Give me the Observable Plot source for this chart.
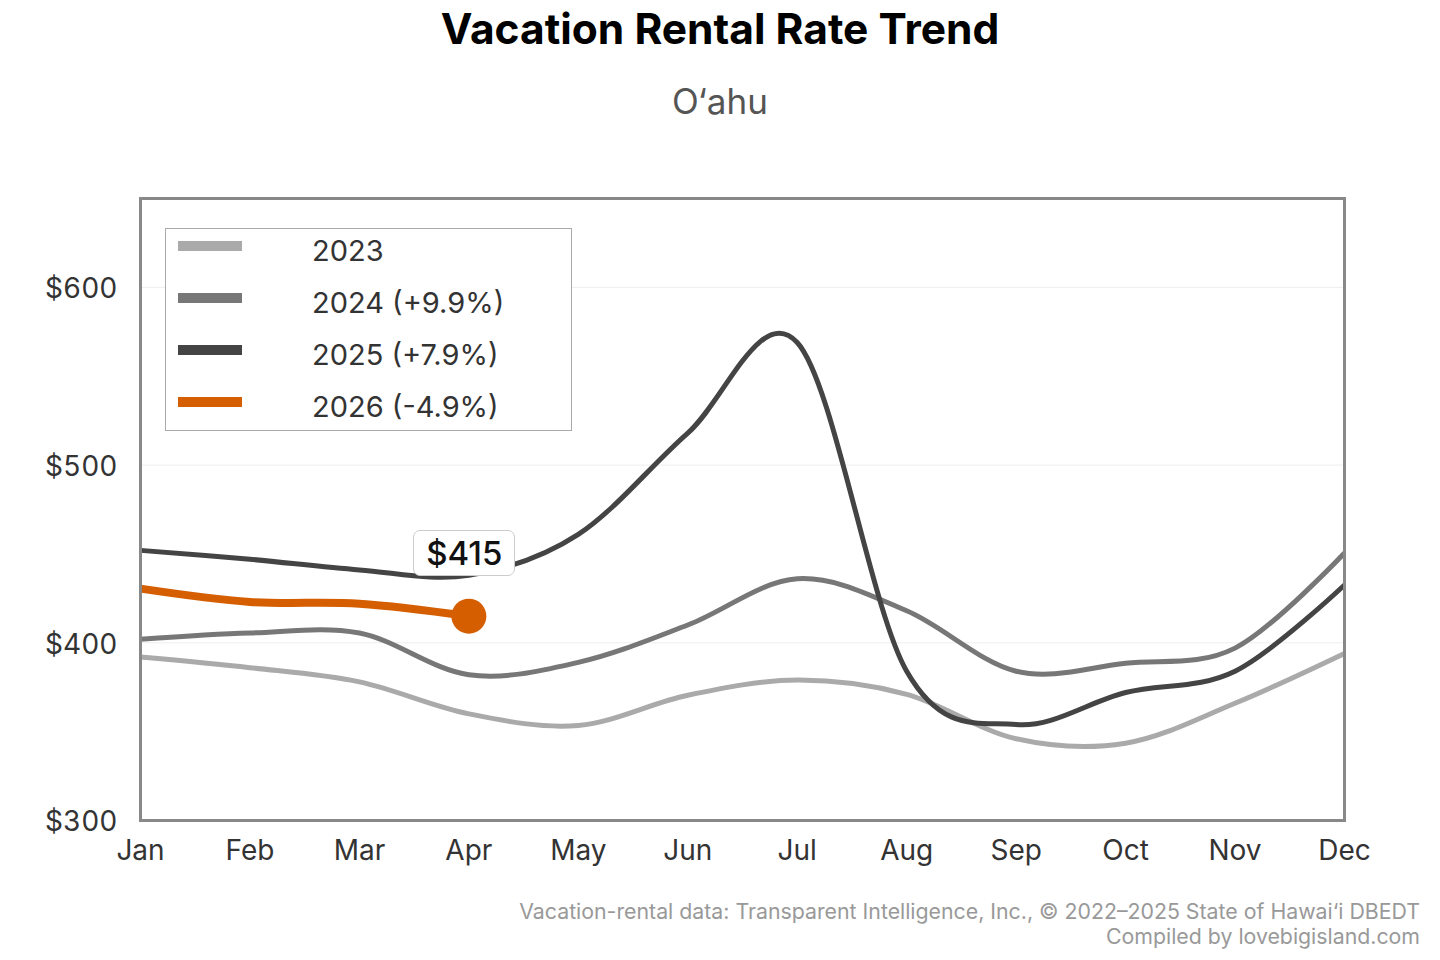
<!DOCTYPE html>
<html>
<head>
<meta charset="utf-8">
<script src="https://cdn.jsdelivr.net/npm/d3@7"></script>
<script src="https://cdn.jsdelivr.net/npm/@observablehq/plot@0.6"></script>
<style>
  body { margin: 0; background: #fff; font-family: Inter, "Noto Sans", sans-serif; }
  #wrap { position: relative; width: 1440px; height: 960px; overflow: hidden; background: #fff; }
  #title { position: absolute; left: 0; width: 1440px; top: 3px; line-height: 52px; text-align: center;
           font-size: 42.5px; font-weight: 700; color: #000; }
  #subtitle { position: absolute; left: 0; width: 1440px; top: 79px; line-height: 44px; text-align: center;
              font-size: 35px; font-weight: 400; color: #555; }
  #chart { position: absolute; left: 0; top: 160px; }
  #legend { position: absolute; box-sizing: border-box; border: 1.5px solid #aaa; background: #fff; }
  .row { position: absolute; left: 0; height: 52px; width: 100%; }
  .sw { position: absolute; left: 12px; width: 64px; height: 10px; }
  .lab { position: absolute; left: 146px; font-size: 29px; color: #333; line-height: 36px; white-space: nowrap; }
  #note { position: absolute; box-sizing: border-box; border: 1px solid #ccc; border-radius: 7px; background: #fff;
          font-size: 33px; font-weight: 500; color: #111; text-align: center; line-height: 44px; }
  #caption { position: absolute; right: 20px; top: 899px; text-align: right; font-size: 21.3px; line-height: 25px; color: #999; }
</style>
</head>
<body>
<div id="wrap">
  <div id="title"></div>
  <div id="subtitle"></div>
  <div id="chart"></div>
  <div id="caption"></div>
</div>
<script>
// ---- data ----
const titleText = "Vacation Rental Rate Trend";
const subtitleText = "O‘ahu";
const captionLines = [
  "Vacation-rental data: Transparent Intelligence, Inc., © 2022–2025 State of Hawai‘i DBEDT",
  "Compiled by lovebigisland.com"
];
const months = ["Jan", "Feb", "Mar", "Apr", "May", "Jun", "Jul", "Aug", "Sep", "Oct", "Nov", "Dec"];
const rates2023 = [392, 386, 378, 360, 353.5, 370.5, 379, 371, 346, 343.5, 366, 394];
const rates2024 = [402, 405.5, 405.5, 382, 389, 410, 436, 418, 384, 388.5, 397, 450.5];
const rates2025 = [452, 447, 441, 438, 461, 518, 569, 384, 354, 372, 384, 432.5];
const rates2026 = [430.5, 423, 422, 415];
const seriesNames = ["2023", "2024 (+9.9%)", "2025 (+7.9%)", "2026 (-4.9%)"];
const seriesColors = ["#aaaaaa", "#777777", "#444444", "#D55E00"];
const seriesWidths = [5, 5, 5, 8];
const yTicks = [300, 400, 500, 600];
const gridValues = [400, 500, 600];
const latestLabel = "$415";

// ---- build table ----
const allSeries = [rates2023, rates2024, rates2025, rates2026];
const rows = [];
allSeries.forEach((vals, s) => vals.forEach((v, i) => rows.push({series: seriesNames[s], month: i, rate: v})));
const lastIdx = rates2026.length - 1;
const latest = [{month: lastIdx, rate: rates2026[lastIdx]}];

document.getElementById("title").textContent = titleText;
document.getElementById("subtitle").textContent = subtitleText;
document.getElementById("caption").innerHTML = captionLines.map(t => `<div>${t}</div>`).join("");

const plot = Plot.plot({
  width: 1440,
  height: 720,
  marginTop: 38,
  marginBottom: 60,
  marginLeft: 140,
  marginRight: 96,
  style: {fontFamily: "Inter, 'Noto Sans', sans-serif", background: "transparent", color: "#333"},
  x: {domain: [0, 11]},
  y: {domain: [300, 650]},
  color: {domain: seriesNames, range: seriesColors},
  marks: [
    Plot.ruleY(gridValues, {stroke: "#eeeeee", strokeWidth: 1}),
    Plot.axisY({ticks: yTicks, tickFormat: d => "$" + d, tickSize: 0, tickPadding: 23, fontSize: 28, label: null, dy: 2}),
    Plot.axisX({ticks: d3.range(12), tickFormat: i => months[i], tickSize: 0, tickPadding: 20, fontSize: 28, label: null}),
    ...seriesNames.map((name, s) =>
      Plot.line(rows.filter(d => d.series === name), {
        x: "month", y: "rate", stroke: seriesColors[s], strokeWidth: seriesWidths[s],
        curve: "cardinal", strokeLinecap: "butt", strokeLinejoin: "round"
      })
    ),
    Plot.dot(latest, {x: "month", y: "rate", r: 17.5, fill: seriesColors[3], stroke: "none"}),
    Plot.frame({stroke: "#888888", strokeWidth: 3})
  ]
});
document.getElementById("chart").appendChild(plot);

// overlays positioned via the plot's scales
const xs = plot.scale("x"), ys = plot.scale("y");
const top0 = 160;
const wrap = document.getElementById("wrap");

// legend
const legend = document.createElement("div");
legend.id = "legend";
const lx = xs.apply(0) + 25, ly = top0 + ys.apply(650) + 30;
Object.assign(legend.style, {left: lx + "px", top: ly + "px", width: "407px", height: "203px"});
seriesNames.forEach((name, s) => {
  const r = document.createElement("div");
  r.className = "row";
  r.style.top = (s * 52) + "px";
  r.innerHTML = `<div class="sw" style="top:12px;background:${seriesColors[s]}"></div><div class="lab" style="top:4px">${name}</div>`;
  legend.appendChild(r);
});
wrap.appendChild(legend);

// latest value label
const note = document.createElement("div");
note.id = "note";
note.textContent = latestLabel;
const px = xs.apply(latest[0].month), py = top0 + ys.apply(latest[0].rate);
Object.assign(note.style, {left: (px - 55) + "px", top: (py - 86) + "px", width: "102px", height: "46px"});
wrap.appendChild(note);
</script>
</body>
</html>
